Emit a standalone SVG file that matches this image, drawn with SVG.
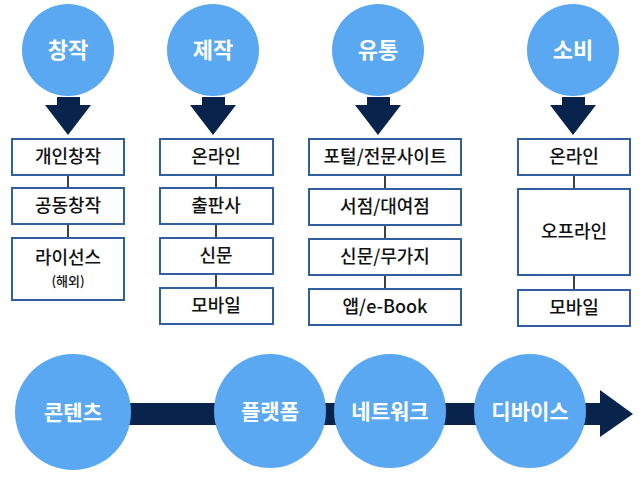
<svg xmlns="http://www.w3.org/2000/svg" width="640" height="481" viewBox="0 0 640 481">
<style>
.c{fill:#5aa8f2}
.a{fill:#08244c}
.b{fill:#fff;stroke:#2f5f9e;stroke-width:2}
.l{stroke:#000;stroke-width:1.5}
.t{font-family:"Noto Sans CJK KR","Noto Sans",sans-serif;font-size:18px;font-weight:500;text-anchor:middle;fill:#111}
.w{font-family:"Noto Sans CJK KR","Noto Sans",sans-serif;font-size:22px;font-weight:bold;text-anchor:middle;fill:#fff}
</style>
<rect width="640" height="481" fill="#fff"/>
<g id="connectors">
<path class="a" d="M57 97H80V105H91L68 135L45 105H57Z"/>
<path class="a" d="M202 97H225V105H236L213 135L190 105H202Z"/>
<path class="a" d="M367 97H390V105H401L378 135L355 105H367Z"/>
<path class="a" d="M562 97H585V105H596L573 135L550 105H562Z"/>
<path class="a" d="M100 403H600V390L633 414L600 437V425H100Z"/>
<line class="l" x1="68" y1="175" x2="68" y2="238"/>
<line class="l" x1="216" y1="175" x2="216" y2="288"/>
<line class="l" x1="385" y1="175" x2="385" y2="289"/>
<line class="l" x1="574" y1="175" x2="574" y2="290"/>
</g>
<g id="n1"><circle class="c" cx="68" cy="50" r="46"/><text class="w" x="68" y="58">창작</text></g>
<g id="n2"><circle class="c" cx="213" cy="50" r="46"/><text class="w" x="213" y="58">제작</text></g>
<g id="n3"><circle class="c" cx="378" cy="50" r="46"/><text class="w" x="378" y="58">유통</text></g>
<g id="n4"><circle class="c" cx="573" cy="50" r="46"/><text class="w" x="573" y="58">소비</text></g>
<g id="b11"><rect class="b" x="12" y="139" width="112" height="36"/><text class="t" x="68" y="163">개인창작</text></g>
<g id="b12"><rect class="b" x="12" y="188" width="112" height="36"/><text class="t" x="68" y="212">공동창작</text></g>
<g id="b13"><rect class="b" x="12" y="238" width="112" height="62"/><text class="t" x="68" y="264">라이선스</text><text class="t" x="68" y="286" style="font-size:13px">(해외)</text></g>
<g id="b21"><rect class="b" x="160" y="139" width="113" height="36"/><text class="t" x="216" y="163">온라인</text></g>
<g id="b22"><rect class="b" x="160" y="188" width="113" height="36"/><text class="t" x="216" y="212">출판사</text></g>
<g id="b23"><rect class="b" x="160" y="238" width="113" height="36"/><text class="t" x="216" y="262">신문</text></g>
<g id="b24"><rect class="b" x="160" y="288" width="113" height="36"/><text class="t" x="216" y="312">모바일</text></g>
<g id="b31"><rect class="b" x="309" y="139" width="152" height="36"/><text class="t" x="385" y="163">포털/전문사이트</text></g>
<g id="b32"><rect class="b" x="309" y="189" width="152" height="36"/><text class="t" x="385" y="213">서점/대여점</text></g>
<g id="b33"><rect class="b" x="309" y="239" width="152" height="36"/><text class="t" x="385" y="263">신문/무가지</text></g>
<g id="b34"><rect class="b" x="309" y="289" width="152" height="36"/><text class="t" x="385" y="313">앱/e-Book</text></g>
<g id="b41"><rect class="b" x="518" y="139" width="112" height="36"/><text class="t" x="574" y="163">온라인</text></g>
<g id="b42"><rect class="b" x="518" y="189" width="112" height="86"/><text class="t" x="574" y="238">오프라인</text></g>
<g id="b43"><rect class="b" x="518" y="290" width="112" height="36"/><text class="t" x="574" y="314">모바일</text></g>
<g id="e1"><ellipse class="c" cx="73" cy="412" rx="58" ry="58"/><text class="w" x="73" y="420" style="font-size:21px">콘텐츠</text></g>
<g id="e2"><ellipse class="c" cx="270" cy="411" rx="56" ry="57"/><text class="w" x="270" y="419" style="font-size:21px">플랫폼</text></g>
<g id="e3"><ellipse class="c" cx="390" cy="411" rx="56" ry="57"/><text class="w" x="390" y="419" style="font-size:21px">네트워크</text></g>
<g id="e4"><ellipse class="c" cx="530" cy="411" rx="56" ry="57"/><text class="w" x="530" y="419" style="font-size:21px">디바이스</text></g>
</svg>
